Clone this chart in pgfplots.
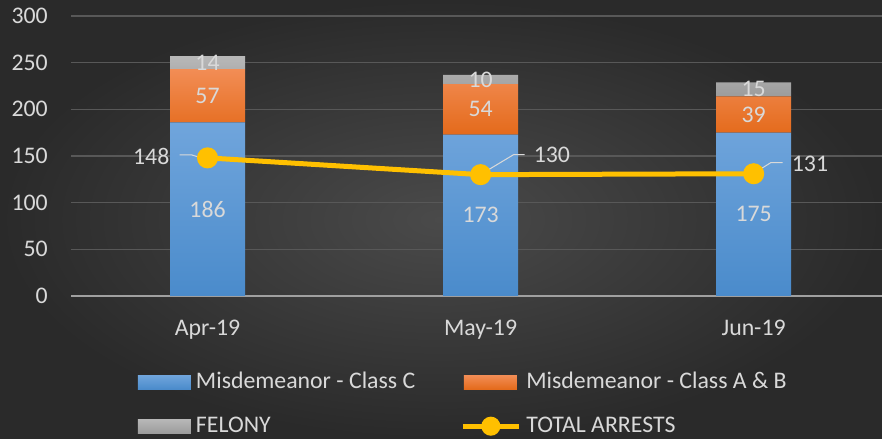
\documentclass[border=0pt]{standalone}
\usepackage{fontspec}
\setmainfont{Carlito}
\usepackage{pgfplots}
\pgfplotsset{compat=1.18}
\definecolor{bginner}{HTML}{4A4A4A}
\definecolor{bgouter}{HTML}{2A2A2A}
\definecolor{gridc}{HTML}{585858}
\definecolor{axisc}{HTML}{A0A0A0}
\definecolor{labc}{HTML}{D9D9D9}
\definecolor{blueT}{HTML}{70A5DC}
\definecolor{blueB}{HTML}{4A8BCB}
\definecolor{oranT}{HTML}{F28D55}
\definecolor{oranB}{HTML}{E46A1B}
\definecolor{grayT}{HTML}{B8B8B8}
\definecolor{grayB}{HTML}{9C9C9C}
\definecolor{yel}{HTML}{FFC000}
\pgfplotsset{
  base/.style={
    at={(71bp,143bp)}, anchor=south west, scale only axis,
    width=811bp, height=280bp,
    xmin=-0.5, xmax=2.47, ymin=0, ymax=300,
    /pgf/number format/assume math mode=true,
  }
}
\begin{document}
\fontsize{23.8bp}{28bp}\selectfont
\begin{tikzpicture}
\shade[inner color=bginner, outer color=bgouter] (0,0) rectangle (882bp,439bp);
\begin{axis}[base,
  ybar stacked, bar width=75bp,
  axis lines*=left,
  y axis line style={draw=none},
  x axis line style={draw=axisc, line width=2.2bp},
  ytick={0,50,...,300},
  xtick={0,1,2}, xticklabels={Apr-19,May-19,Jun-19},
  major tick length=0pt, tick style={draw=none},
  ymajorgrids, grid style={draw=gridc, line width=1.4bp},
  yticklabel style={text=labc, inner sep=0pt, anchor=east, xshift=-23bp},
  xticklabel style={text=labc, inner sep=0pt, anchor=north, yshift=-24bp},
]
\addplot[draw=none, top color=blueT, bottom color=blueB] coordinates {(0,186) (1,173) (2,175)};
\addplot[draw=none, top color=oranT, bottom color=oranB] coordinates {(0,57) (1,54) (2,39)};
\addplot[draw=none, top color=grayT, bottom color=grayB] coordinates {(0,14) (1,10) (2,15)};
\end{axis}
\begin{axis}[base,
  axis lines=none, ticks=none,
  clip=false,
  legend columns=2,
  legend cell align=left,
  legend style={at={(0.0826,-0.265)}, anchor=north west, draw=none, fill=none,
    text=labc, inner sep=0pt, outer sep=0pt, row sep=20bp,
    nodes={inner xsep=5bp, inner ysep=1bp, text height=17bp, text depth=5bp},
    /tikz/every even column/.append style={column sep=40bp}},
  every node near coord/.style={anchor=center, text=labc, inner sep=0pt},
]
\addlegendimage{legend image code/.code={\shade[draw=none, top color=blueT, bottom color=blueB] (0bp,-7bp) rectangle (53bp,7bp);}}
\addlegendentry{Misdemeanor - Class C}
\addlegendimage{legend image code/.code={\shade[draw=none, top color=oranT, bottom color=oranB] (1bp,-7bp) rectangle (54bp,7bp);}}
\addlegendentry{Misdemeanor - Class A \& B}
\addlegendimage{legend image code/.code={\shade[draw=none, top color=grayT, bottom color=grayB] (0bp,-7bp) rectangle (53bp,7bp);}}
\addlegendentry{FELONY}
\addplot[yel, line width=5bp, mark=*, mark size=8bp, mark options={draw=none, fill=yel},
  legend image code/.code={\draw[yel, line width=5bp] (0bp,0bp) -- (56bp,0bp); \fill[yel] (28bp,0bp) circle (7bp);}]
  coordinates {(0,148) (1,130) (2,131)};
\addlegendentry{TOTAL ARRESTS}
% segment labels
\addplot[draw=none, mark=none, nodes near coords, point meta=explicit symbolic, forget plot]
  table[meta=l] {
x y l
0 93 186
1 86.5 173
2 87.5 175
0 214.5 57
1 200 54
2 194.5 39
0 250 14
1 232 10
2 221.5 15
};
% line value labels with leaders
\draw[labc, line width=1bp] ([xshift=-28bp,yshift=3bp]axis cs:0,148) -- ([xshift=-16bp,yshift=3bp]axis cs:0,148) -- ([xshift=-3bp,yshift=-1bp]axis cs:0,148);
\node[anchor=east, text=labc, inner sep=0pt] at ([xshift=-38bp,yshift=1bp]axis cs:0,148) {148};
\draw[labc, line width=1bp] ([xshift=3bp,yshift=2bp]axis cs:1,130) -- ([xshift=33bp,yshift=20bp]axis cs:1,130) -- ([xshift=44bp,yshift=20bp]axis cs:1,130);
\node[anchor=west, text=labc, inner sep=0pt] at ([xshift=53bp,yshift=20bp]axis cs:1,130) {130};
\draw[labc, line width=1bp] ([xshift=1bp,yshift=1bp]axis cs:2,131) -- ([xshift=17bp,yshift=11bp]axis cs:2,131) -- ([xshift=29bp,yshift=11bp]axis cs:2,131);
\node[anchor=west, text=labc, inner sep=0pt] at ([xshift=38bp,yshift=10bp]axis cs:2,131) {131};
\end{axis}
\pgfresetboundingbox
\path[use as bounding box] (0,0) rectangle (882bp,439bp);
\end{tikzpicture}
\end{document}
